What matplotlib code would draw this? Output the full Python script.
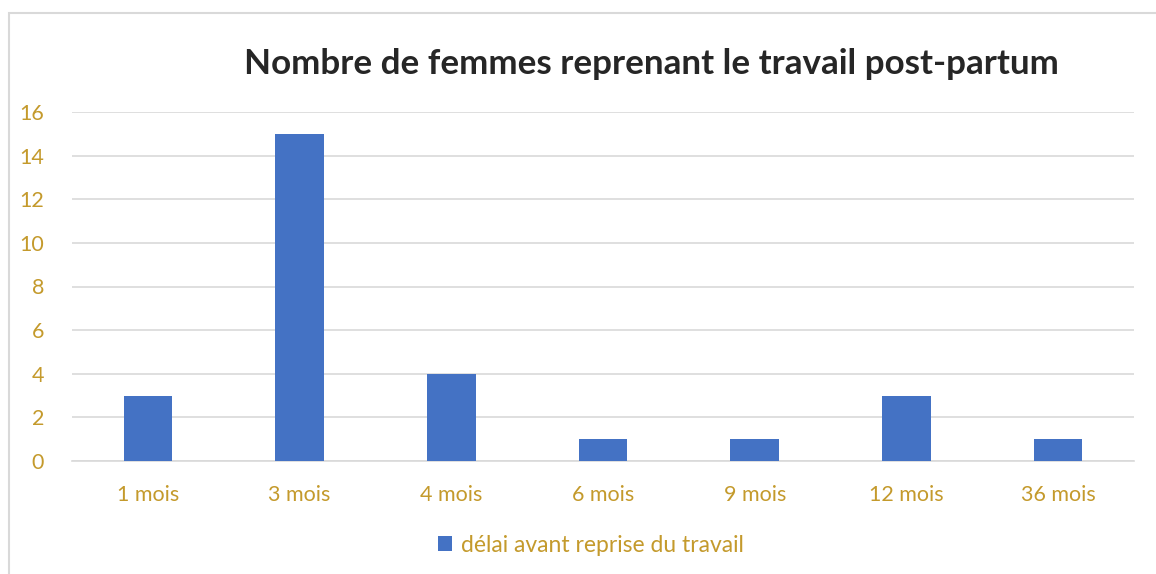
import matplotlib.pyplot as plt
from matplotlib.patches import Rectangle

# Data
categories = ['1 mois', '3 mois', '4 mois', '6 mois', '9 mois', '12 mois', '36 mois']
counts = [3, 15, 4, 1, 1, 3, 1]
y_ticks = [0, 2, 4, 6, 8, 10, 12, 14, 16]
series_name = 'délai avant reprise du travail'

bar_color = '#4472C4'
label_color = '#C49A2C'
grid_color = '#D9D9D9'

plt.rcParams['font.family'] = ['Lato', 'DejaVu Sans']

fig = plt.figure(figsize=(11.56, 5.74), dpi=100)
W, H = 1156, 574

# chart frame like Excel
fig.patches.append(Rectangle((9 / W, -0.1), 1.2, (574 - 13) / H + 0.1,
                             transform=fig.transFigure, fill=False,
                             edgecolor='#D9D9D9', linewidth=1.5))

ax = fig.add_axes([72 / W, (H - 461) / H, (1134 - 72) / W, (461 - 112) / H])
x = range(len(categories))
ax.bar(x, counts, width=0.32, color=bar_color, zorder=3, label=series_name)

ax.set_ylim(0, 16)
ax.set_xlim(-0.5, len(categories) - 0.5)
ax.set_yticks(y_ticks)
ax.set_xticks(list(x))
ax.set_xticklabels(categories)
ax.yaxis.grid(True, color=grid_color, linewidth=1.2, zorder=0)
for s in ['top', 'right', 'left']:
    ax.spines[s].set_visible(False)
ax.spines['bottom'].set_color(grid_color)
ax.spines['bottom'].set_linewidth(1.2)
ax.tick_params(axis='both', length=0, labelsize=15.5, labelcolor=label_color)
ax.tick_params(axis='y', pad=20)
ax.tick_params(axis='x', pad=17)

fig.text(651 / W, 1 - 64 / H, 'Nombre de femmes reprenant le travail post-partum',
         ha='center', va='center', fontsize=25.2, fontweight='bold', color='#262626')

leg = ax.legend(loc='center', bbox_to_anchor=(591 / W, 1 - 545 / H),
                bbox_transform=fig.transFigure, frameon=False, fontsize=16.5,
                handlelength=0.6, handleheight=0.6, handletextpad=0.4)
for t in leg.get_texts():
    t.set_color(label_color)

fig.savefig('out.png', dpi=100)
